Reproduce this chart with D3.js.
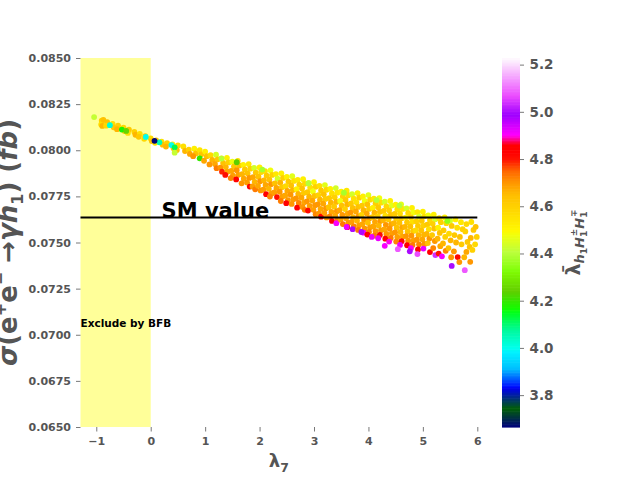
<!DOCTYPE html>
<html>
<head>
<meta charset="utf-8">
<script src="https://cdn.jsdelivr.net/npm/d3@7"></script>
<style>
body { margin: 0; background: #fff; }
text { font-family: "DejaVu Sans", sans-serif; }
</style>
</head>
<body>
<svg id="chart" width="640" height="480"></svg>
<script>
// tick labels
var xTicks = [-1, 0, 1, 2, 3, 4, 5, 6]
var yTicks = [0.0650, 0.0675, 0.0700, 0.0725, 0.0750, 0.0775, 0.0800, 0.0825, 0.0850]
var cbTicks = [3.8, 4.0, 4.2, 4.4, 4.6, 4.8, 5.0, 5.2]

var smValue = 0.07635
var bfbLimit = 0.0

// scan points [lambda7, sigma (fb), lambda_bar h1H1H1]
var leftPoints = [
  [-0.90,0.08160,4.60],[-0.91,0.08140,4.56],[-0.87,0.08165,4.64],[-0.89,0.08132,4.66],
  [-0.80,0.08152,4.64],[-0.82,0.08133,4.58],[-0.70,0.08143,4.56],[-0.68,0.08124,4.62],
  [-0.60,0.08133,4.60],[-0.62,0.08114,4.66],[-0.50,0.08122,4.58],[-0.48,0.08104,4.62],
  [-0.40,0.08111,4.62],[-0.42,0.08094,4.56],[-0.30,0.08099,4.60],[-0.28,0.08084,4.66],
  [-0.20,0.08088,4.56],[-0.22,0.08073,4.62],[-0.10,0.08076,4.62],[-0.12,0.08062,4.58],
  [0.00,0.08064,4.58],[0.02,0.08050,4.64],[0.10,0.08054,4.62],[0.08,0.08040,4.56],
  [0.20,0.08046,4.56],[0.22,0.08030,4.64],[0.30,0.08038,4.60],[0.28,0.08020,4.66],
  [0.40,0.08032,4.52],[0.42,0.08011,4.62],[0.50,0.08026,4.58],[0.48,0.08001,4.64]
]

var bandPoints = [
  [0.60,0.08021,4.56],[0.63,0.07996,4.66],
  [0.70,0.08003,4.60],[0.72,0.07980,4.68],
  [0.80,0.08008,4.52],[0.83,0.07983,4.64],[0.78,0.07968,4.70],
  [0.90,0.08001,4.55],[0.93,0.07978,4.63],[0.90,0.07956,4.20],
  [1.00,0.07993,4.52],[1.03,0.07968,4.64],[0.98,0.07943,4.68],
  [1.10,0.07973,4.58],[1.13,0.07948,4.66],[1.08,0.07923,4.70],
  [1.20,0.07976,4.44],[1.23,0.07951,4.62],[1.18,0.07926,4.68],[1.21,0.07903,4.73],
  [1.30,0.07956,4.56],[1.33,0.07931,4.64],[1.28,0.07906,4.70],[1.31,0.07884,4.79],
  [1.40,0.07959,4.52],[1.43,0.07934,4.60],[1.38,0.07909,4.66],[1.41,0.07884,4.68],[1.37,0.07866,4.81],
  [1.50,0.07938,4.48],[1.53,0.07913,4.62],[1.48,0.07888,4.68],[1.51,0.07863,4.69],[1.47,0.07849,4.72],
  [1.60,0.07942,4.56],[1.63,0.07917,4.64],[1.58,0.07892,4.70],[1.61,0.07867,4.69],[1.57,0.07842,4.83],
  [1.70,0.07921,4.52],[1.73,0.07896,4.62],[1.68,0.07871,4.66],[1.71,0.07846,4.68],[1.67,0.07821,4.70],
  [1.80,0.07925,4.54],[1.83,0.07900,4.60],[1.78,0.07875,4.64],[1.81,0.07850,4.70],[1.77,0.07825,4.69],[1.82,0.07803,4.83],
  [1.90,0.07904,4.44],[1.93,0.07879,4.62],[1.88,0.07854,4.68],[1.91,0.07829,4.66],[1.87,0.07804,4.69],[1.92,0.07788,4.73],
  [2.00,0.07907,4.52],[2.03,0.07882,4.58],[1.98,0.07857,4.64],[2.01,0.07832,4.70],[1.97,0.07807,4.68],[2.02,0.07782,4.70],
  [2.10,0.07887,4.56],[2.13,0.07862,4.62],[2.08,0.07837,4.66],[2.11,0.07812,4.68],[2.07,0.07787,4.69],[2.12,0.07762,4.84],
  [2.20,0.07891,4.48],[2.23,0.07866,4.60],[2.18,0.07841,4.64],[2.21,0.07816,4.70],[2.17,0.07791,4.66],[2.22,0.07766,4.69],[2.19,0.07749,4.72],
  [2.30,0.07871,4.54],[2.33,0.07846,4.44],[2.28,0.07821,4.64],[2.31,0.07796,4.68],[2.27,0.07771,4.69],[2.32,0.07746,4.81],
  [2.40,0.07875,4.52],[2.43,0.07850,4.60],[2.38,0.07825,4.66],[2.41,0.07800,4.62],[2.37,0.07775,4.70],[2.42,0.07750,4.69],[2.39,0.07725,4.73],
  [2.50,0.07855,4.52],[2.53,0.07830,4.62],[2.48,0.07805,4.58],[2.51,0.07780,4.68],[2.47,0.07755,4.68],[2.52,0.07730,4.70],[2.49,0.07713,4.84],
  [2.60,0.07859,4.46],[2.63,0.07834,4.56],[2.58,0.07809,4.64],[2.61,0.07784,4.66],[2.57,0.07759,4.70],[2.62,0.07734,4.69],[2.59,0.07709,4.70],
  [2.70,0.07839,4.54],[2.73,0.07814,4.60],[2.68,0.07789,4.52],[2.71,0.07764,4.66],[2.67,0.07739,4.70],[2.72,0.07714,4.72],[2.69,0.07689,4.83],
  [2.80,0.07843,4.52],[2.83,0.07818,4.58],[2.78,0.07793,4.64],[2.81,0.07768,4.62],[2.77,0.07743,4.68],[2.82,0.07718,4.68],[2.79,0.07693,4.70],[2.83,0.07677,4.73],
  [2.90,0.07823,4.44],[2.93,0.07798,4.56],[2.88,0.07773,4.62],[2.91,0.07748,4.66],[2.87,0.07723,4.70],[2.92,0.07698,4.69],[2.89,0.07673,4.82],
  [3.00,0.07827,4.52],[3.03,0.07802,4.60],[2.98,0.07777,4.48],[3.01,0.07752,4.64],[2.97,0.07727,4.68],[3.02,0.07702,4.70],[2.99,0.07677,4.69],[3.03,0.07653,4.72],
  [3.10,0.07807,4.56],[3.13,0.07782,4.62],[3.08,0.07757,4.60],[3.11,0.07732,4.66],[3.07,0.07707,4.70],[3.12,0.07682,4.68],[3.09,0.07657,4.70],[3.13,0.07640,4.84],
  [3.20,0.07811,4.46],[3.23,0.07786,4.58],[3.18,0.07761,4.64],[3.21,0.07736,4.62],[3.17,0.07711,4.68],[3.22,0.07686,4.70],[3.19,0.07661,4.69],[3.23,0.07636,4.70],
  [3.30,0.07791,4.52],[3.33,0.07766,4.56],[3.28,0.07741,4.62],[3.31,0.07716,4.66],[3.27,0.07691,4.64],[3.32,0.07666,4.68],[3.29,0.07641,4.72],[3.33,0.07617,4.83],
  [3.40,0.07795,4.44],[3.43,0.07770,4.54],[3.38,0.07745,4.60],[3.41,0.07720,4.66],[3.37,0.07695,4.62],[3.42,0.07670,4.70],[3.39,0.07645,4.68],[3.43,0.07620,4.73],[3.41,0.07605,4.91],
  [3.50,0.07775,4.52],[3.53,0.07750,4.60],[3.48,0.07725,4.48],[3.51,0.07700,4.64],[3.47,0.07675,4.68],[3.52,0.07650,4.70],[3.49,0.07625,4.69],[3.53,0.07600,4.73],
  [3.60,0.07781,4.54],[3.63,0.07756,4.58],[3.58,0.07731,4.62],[3.61,0.07706,4.66],[3.57,0.07681,4.60],[3.62,0.07656,4.68],[3.59,0.07631,4.68],[3.63,0.07606,4.70],[3.61,0.07583,4.84],
  [3.70,0.07762,4.44],[3.73,0.07737,4.56],[3.68,0.07712,4.62],[3.71,0.07687,4.64],[3.67,0.07662,4.70],[3.72,0.07637,4.66],[3.69,0.07612,4.69],[3.73,0.07587,4.72],[3.71,0.07572,5.00],
  [3.80,0.07768,4.52],[3.83,0.07743,4.60],[3.78,0.07718,4.56],[3.81,0.07693,4.64],[3.77,0.07668,4.68],[3.82,0.07643,4.70],[3.79,0.07618,4.66],[3.83,0.07593,4.69],[3.81,0.07568,4.73],
  [3.90,0.07750,4.52],[3.93,0.07725,4.48],[3.88,0.07700,4.62],[3.91,0.07675,4.66],[3.87,0.07650,4.60],[3.92,0.07625,4.70],[3.89,0.07600,4.68],[3.93,0.07575,4.70],[3.91,0.07553,4.91],
  [4.00,0.07757,4.46],[4.03,0.07732,4.58],[3.98,0.07707,4.64],[4.01,0.07682,4.62],[3.97,0.07657,4.68],[4.02,0.07632,4.70],[3.99,0.07607,4.64],[4.03,0.07582,4.69],[4.01,0.07557,4.72],[3.98,0.07543,4.84],
  [4.10,0.07737,4.54],[4.13,0.07712,4.60],[4.08,0.07687,4.52],[4.11,0.07662,4.66],[4.07,0.07637,4.62],[4.12,0.07612,4.68],[4.09,0.07587,4.68],[4.13,0.07562,4.70],[4.11,0.07537,4.73],
  [4.20,0.07741,4.48],[4.23,0.07716,4.56],[4.18,0.07691,4.62],[4.21,0.07666,4.64],[4.17,0.07641,4.60],[4.22,0.07616,4.70],[4.19,0.07591,4.66],[4.23,0.07566,4.69],[4.21,0.07541,4.81],[4.18,0.07523,4.92],
  [4.30,0.07721,4.44],[4.33,0.07696,4.58],[4.28,0.07671,4.62],[4.31,0.07646,4.56],[4.27,0.07621,4.66],[4.32,0.07596,4.70],[4.29,0.07571,4.68],[4.33,0.07546,4.70],[4.31,0.07521,4.84],
  [4.40,0.07725,4.52],[4.43,0.07700,4.46],[4.38,0.07675,4.60],[4.41,0.07650,4.64],[4.37,0.07625,4.62],[4.42,0.07600,4.68],[4.39,0.07575,4.70],[4.43,0.07550,4.69],[4.41,0.07525,4.73],[4.38,0.07505,4.90],
  [4.50,0.07705,4.52],[4.53,0.07680,4.56],[4.48,0.07655,4.62],[4.51,0.07630,4.60],[4.47,0.07605,4.66],[4.52,0.07580,4.64],[4.49,0.07555,4.70],[4.53,0.07530,4.69],[4.51,0.07505,4.72],
  [4.60,0.07707,4.46],[4.63,0.07682,4.54],[4.58,0.07657,4.58],[4.61,0.07632,4.62],[4.57,0.07607,4.64],[4.62,0.07582,4.68],[4.59,0.07557,4.66],[4.63,0.07532,4.68],[4.61,0.07507,4.81],[4.58,0.07487,4.92],
  [4.70,0.07685,4.44],[4.73,0.07660,4.58],[4.68,0.07635,4.52],[4.71,0.07610,4.62],[4.67,0.07585,4.66],[4.72,0.07560,4.64],[4.69,0.07535,4.70],[4.73,0.07510,4.70],[4.71,0.07485,4.84],
  [4.80,0.07687,4.52],[4.83,0.07662,4.48],[4.78,0.07637,4.60],[4.81,0.07612,4.56],[4.77,0.07587,4.64],[4.82,0.07562,4.62],[4.79,0.07537,4.70],[4.83,0.07512,4.69],[4.81,0.07487,4.73],[4.78,0.07469,4.91],
  [4.90,0.07665,4.54],[4.93,0.07640,4.44],[4.88,0.07615,4.60],[4.91,0.07590,4.62],[4.87,0.07565,4.58],[4.92,0.07540,4.66],[4.89,0.07515,4.70],[4.93,0.07490,4.72],[4.91,0.07462,4.84],
  [5.00,0.07667,4.52],[5.03,0.07642,4.56],[4.98,0.07617,4.62],[5.01,0.07592,4.60],[4.97,0.07567,4.64],[5.02,0.07542,4.66],[4.99,0.07517,4.68],[5.03,0.07492,4.70],[5.01,0.07467,4.92],
  [5.10,0.07647,4.48],[5.13,0.07622,4.58],[5.08,0.07597,4.62],[5.11,0.07572,4.56],[5.07,0.07547,4.66],[5.12,0.07522,4.70],[5.09,0.07497,4.64],[5.13,0.07448,4.83],
  [5.20,0.07651,4.52],[5.23,0.07626,4.44],[5.18,0.07601,4.60],[5.21,0.07576,4.64],[5.17,0.07540,4.62],[5.22,0.07508,4.70],[5.19,0.07470,4.72],[5.23,0.07432,5.04],
  [5.30,0.07632,4.56],[5.33,0.07610,4.60],[5.28,0.07580,4.52],[5.31,0.07552,4.64],[5.27,0.07521,4.66],[5.32,0.07480,4.68],[5.29,0.07440,4.80],
  [5.40,0.07636,4.52],[5.43,0.07605,4.58],[5.38,0.07566,4.62],[5.41,0.07530,4.60],[5.37,0.07495,4.66],[5.42,0.07455,4.72],
  [5.50,0.07618,4.44],[5.53,0.07590,4.62],[5.48,0.07548,4.58],[5.51,0.07512,4.66],[5.47,0.07470,4.64],[5.52,0.07420,4.70],
  [5.60,0.07625,4.52],[5.63,0.07580,4.56],[5.58,0.07540,4.62],[5.61,0.07500,4.66],[5.64,0.07421,4.82],[5.57,0.07452,4.70],
  [5.70,0.07610,4.54],[5.73,0.07572,4.60],[5.68,0.07530,4.64],[5.71,0.07490,4.62],[5.67,0.07394,4.70],
  [5.80,0.07600,4.58],[5.82,0.07503,4.62],[5.78,0.07560,4.60],[5.86,0.07476,4.64],[5.80,0.07449,4.68],[5.76,0.07420,4.66],
  [5.89,0.07611,4.56],[5.93,0.07568,4.62],[5.88,0.07525,4.66],[5.91,0.07460,4.60],[5.87,0.07395,4.70],
  [5.99,0.07530,4.60],[5.97,0.07585,4.64],[5.96,0.07490,4.58]
]

// odd-coloured points drawn last (low and high lambda_bar)
var specialPoints = [
  [-1.04,0.08180,4.42],[-0.75,0.08136,4.02],[-0.53,0.08112,4.18],[-0.45,0.08105,4.25],
  [-0.09,0.08072,4.00],[0.16,0.08043,4.05],[0.38,0.08028,4.00],[0.44,0.08016,4.12],
  [0.44,0.07987,4.42],[0.07,0.08051,3.67],[1.58,0.07935,4.24],[1.30,0.07955,4.40],
  [2.05,0.07895,4.38],[2.90,0.07820,4.40],[3.55,0.07770,4.38],[4.15,0.07730,4.40],
  [4.57,0.07700,4.40],[5.45,0.07617,4.35],
  [3.60,0.07584,4.92],[3.87,0.07557,5.00],[4.06,0.07530,4.92],[4.30,0.07482,4.91],
  [4.54,0.07464,5.08],[4.76,0.07452,5.00],[4.90,0.07437,5.07],[5.35,0.07425,4.91],
  [5.53,0.07373,5.00],[5.77,0.07350,5.08]
]

// gist_ncar-like colour map stops [position, value], matched to the bar
var ncarR = [[0,0],[0.3098,0],[0.3725,0.3993],[0.4235,0.5003],[0.5333,1],[0.7922,1],[0.8471,0.6218],[0.898,0.9235],[1,0.9961]]
var ncarG = [[0,0],[0.051,0.3722],[0.1059,0],[0.1569,0.7202],[0.1608,0.7537],[0.1647,0.7752],[0.2157,1],[0.2588,0.9804],[0.2706,0.9804],[0.3176,1],[0.3686,0.8081],[0.4275,1],[0.5216,1],[0.63,0.745],[0.665,0.58],[0.695,0.4],[0.725,0.08],[0.745,0],[0.8471,0],[0.898,0.2941],[1,0.9804]]
var ncarB = [[0,0.502],[0.051,0.0222],[0.1098,1],[0.2039,1],[0.2627,0.6145],[0.3216,0],[0.4157,0],[0.4745,0.2342],[0.5333,0],[0.765,0],[0.7922,0.9961],[0.8471,1],[0.898,1],[1,0.9961]]

var cMin = 3.665, cMax = 5.228

var chan = function(stops) {
    return d3.scaleLinear().domain(stops.map(function(s) { return s[0] }))
             .range(stops.map(function(s) { return s[1] * 255 })).clamp(true)
}
var rS = chan(ncarR), gS = chan(ncarG), bS = chan(ncarB)
var tScale = d3.scaleLinear().domain([cMin, cMax]).range([0, 1]).clamp(true)
var ncar = function(c) {
    var t = tScale(c)
    return d3.rgb(rS(t), gS(t), bS(t)).toString()
}

var svg = d3.select('#chart')
var plot = {left: 80.5, right: 477.3, top: 58, bottom: 427}
var grey = '#555'

var x = d3.scaleLinear().domain([-1.29, 6.0]).range([plot.left, plot.right])
var y = d3.scaleLinear().domain([0.065, 0.085]).range([plot.bottom, plot.top])

// excluded region
svg.append('rect')
    .attr('x', x(-1.29)).attr('y', plot.top)
    .attr('width', x(bfbLimit) - x(-1.29)).attr('height', plot.bottom - plot.top)
    .attr('fill', 'rgb(255,255,153)')

// points
var allPoints = leftPoints.concat(bandPoints).concat(specialPoints)
svg.append('g').selectAll('circle')
    .data(allPoints)
    .enter().append('circle')
        .attr('cx', function(d) { return x(d[0]) })
        .attr('cy', function(d) { return y(d[1]) })
        .attr('r', 2.9)
        .attr('fill', function(d) { return ncar(d[2]) })

// SM line + labels
svg.append('line')
    .attr('x1', x(-1.29)).attr('x2', x(6.0))
    .attr('y1', y(smValue)).attr('y2', y(smValue))
    .attr('stroke', '#000').attr('stroke-width', 2)
svg.append('text')
    .attr('x', x(0.2)).attr('y', y(smValue))
    .attr('font-size', 21).attr('font-weight', 'bold')
    .text('SM value')
svg.append('text')
    .attr('x', x(-1.29)).attr('y', y(0.0704))
    .attr('font-size', 10.5).attr('font-weight', 'bold')
    .text('Exclude by BFB')

// axes
var styleAxis = function(g, size) {
    g.select('.domain').remove()
    g.selectAll('.tick line').attr('stroke', grey).attr('stroke-width', 0.8)
    g.selectAll('.tick text').attr('fill', grey).attr('font-size', size)
        .attr('font-weight', 'bold').attr('font-family', '"DejaVu Sans", sans-serif')
}
svg.append('g')
    .attr('transform', 'translate(0,' + plot.bottom + ')')
    .call(d3.axisBottom(x).tickValues(xTicks).tickSize(4.5).tickPadding(5.5).tickFormat(d3.format('d')))
    .call(styleAxis, 11)
svg.append('g')
    .attr('transform', 'translate(' + plot.left + ',0)')
    .call(d3.axisLeft(y).tickValues(yTicks).tickSize(4.5).tickPadding(5).tickFormat(d3.format('.4f')))
    .call(styleAxis, 11)

// x label
var xl = svg.append('text')
    .attr('x', (plot.left + plot.right) / 2).attr('y', 467)
    .attr('text-anchor', 'middle').attr('fill', grey).attr('font-weight', 'bold')
xl.append('tspan').attr('font-size', 18).text('λ')
xl.append('tspan').attr('font-size', 12.5).attr('dy', 5).text('7')

// y label (clipped at the left edge, as in the original figure)
var yl = svg.append('text')
    .attr('transform', 'translate(17,' + (plot.top + plot.bottom) / 2 + ') rotate(-90)')
    .attr('text-anchor', 'middle').attr('fill', grey).attr('font-weight', 'bold')
    .attr('font-size', 26)
yl.append('tspan').attr('font-style', 'italic').text('σ')
yl.append('tspan').text('(e')
yl.append('tspan').attr('font-size', 16).attr('dy', -11).text('+')
yl.append('tspan').attr('dy', 11).text('e')
yl.append('tspan').attr('font-size', 16).attr('dy', -11).text('−')
yl.append('tspan').attr('dy', 11).text(' →')
yl.append('tspan').attr('font-style', 'italic').text('γh')
yl.append('tspan').attr('font-size', 16).attr('dy', 6).text('1')
yl.append('tspan').attr('dy', -6).text(') (')
yl.append('tspan').attr('font-style', 'italic').text('fb')
yl.append('tspan').text(')')

// colour bar
var cb = {left: 502, width: 18}
var cy = d3.scaleLinear().domain([cMin, cMax]).range([plot.bottom, plot.top])
var steps = d3.range(0, 256)
svg.append('g').selectAll('rect')
    .data(steps)
    .enter().append('rect')
        .attr('x', cb.left)
        .attr('y', function(i) { return cy(cMin + (i + 1) / 256 * (cMax - cMin)) })
        .attr('width', cb.width)
        .attr('height', (plot.bottom - plot.top) / 256 + 0.6)
        .attr('fill', function(i) { return ncar(cMin + (i + 0.5) / 256 * (cMax - cMin)) })
svg.append('g')
    .attr('transform', 'translate(' + (cb.left + cb.width) + ',0)')
    .call(d3.axisRight(cy).tickValues(cbTicks).tickSize(4).tickPadding(5.5).tickFormat(d3.format('.1f')))
    .call(styleAxis, 13.5)

var cl = svg.append('text')
    .attr('transform', 'translate(580,' + (plot.top + plot.bottom) / 2 + ') rotate(-90)')
    .attr('text-anchor', 'middle').attr('fill', grey).attr('font-weight', 'bold')
cl.append('tspan').attr('font-size', 19).text('λ\u0304')
cl.append('tspan').attr('font-size', 13).attr('font-style', 'italic').attr('dy', 4).text('h')
cl.append('tspan').attr('font-size', 9).attr('dy', 3).text('1')
cl.append('tspan').attr('font-size', 13).attr('font-style', 'italic').attr('dy', -3).text('H')
cl.append('tspan').attr('font-size', 9).attr('dy', 3).text('1')
cl.append('tspan').attr('font-size', 9).attr('dx', -5.5).attr('dy', -10).text('±')
cl.append('tspan').attr('font-size', 13).attr('font-style', 'italic').attr('dy', 7).text('H')
cl.append('tspan').attr('font-size', 9).attr('dy', 3).text('1')
cl.append('tspan').attr('font-size', 9).attr('dx', -5.5).attr('dy', -10).text('∓')
</script>
</body>
</html>
